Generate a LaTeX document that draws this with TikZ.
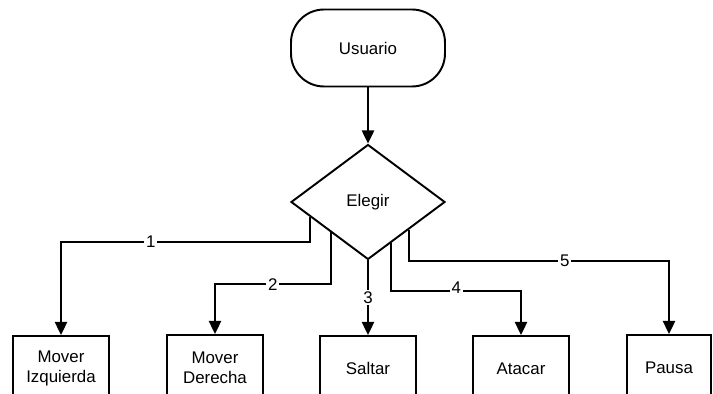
\documentclass[tikz,border=0pt]{standalone}
\usepackage{fontspec}
\setmainfont{Liberation Sans}
\usepackage{tikz}
\usetikzlibrary{shapes,arrows.meta,calc}

\begin{document}
\begin{tikzpicture}[x=0.02cm,y=-0.02cm,line width=1.1pt,
  every node/.style={font=\fontsize{9.6}{11.3}\selectfont},
  term/.style={draw,rounded corners=0.66cm,minimum width=3.08cm,minimum height=1.54cm},
  choice/.style={draw,diamond,inner sep=0pt,minimum width=3.08cm,minimum height=2.3cm},
  action/.style={draw,anchor=north,align=center,minimum width=1.92cm,minimum height=1.3cm},
  num/.style={fill=white,inner sep=1pt},
  flow/.style={-{Triangle[length=7.5pt,width=7pt]}}]
\useasboundingbox (0,0) rectangle (713,394);
\node (usuario) at (368,48) [term] {Usuario};
\node (elegir) at (368,202) [choice] {Elegir};
\node (izq) at (61,335) [action] {Mover\\Izquierda};
\node (der) at (215,334) [action] {Mover\\Derecha};
\node (saltar) at (368,335) [action] {Saltar};
\node (atacar) at (521,335) [action] {Atacar};
\node (pausa) at (669,334) [action,minimum width=1.68cm] {Pausa};
% salidas del rombo
\coordinate (s1) at ($(elegir.west)!0.26!(elegir.south)$);
\coordinate (s2) at ($(elegir.west)!0.52!(elegir.south)$);
\coordinate (s4) at ($(elegir.south)!0.3!(elegir.east)$);
\coordinate (s5) at ($(elegir.south)!0.52!(elegir.east)$);
\draw[flow] (usuario) -- (elegir);
\draw[flow] (s1) -- ++(0,25) -| node[num,pos=0.32]{1} (izq.north);
\draw[flow] (s2) -- ++(0,52) -| node[num,pos=0.25]{2} (der.north);
\draw[flow] (elegir.south) -- node[num]{3} (saltar.north);
\draw[flow] (s4) -- ++(0,48) -| node[num,pos=0.25,yshift=2pt]{4} (atacar.north);
\draw[flow] (s5) -- ++(0,31) -| node[num,pos=0.3]{5} (pausa.north);
\end{tikzpicture}
\end{document}
